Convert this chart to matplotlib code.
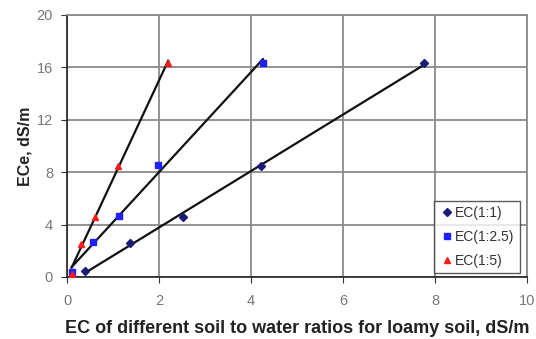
import numpy as np
import matplotlib
matplotlib.use('Agg')
import matplotlib.pyplot as plt

plt.rcParams['font.family'] = ['Liberation Sans', 'DejaVu Sans']

# EC readings for each soil:water ratio (x) vs ECe (y)
ec_11_x = [0.40, 1.37, 2.52, 4.22, 7.76]
ec_11_y = [0.45, 2.60, 4.55, 8.50, 16.30]
ec_125_x = [0.10, 0.57, 1.13, 1.98, 4.26]
ec_125_y = [0.35, 2.65, 4.65, 8.55, 16.35]
ec_15_x = [0.10, 0.30, 0.60, 1.10, 2.20]
ec_15_y = [0.25, 2.50, 4.60, 8.45, 16.35]

labels = ['EC(1:1)', 'EC(1:2.5)', 'EC(1:5)']
x_ticks = [0, 2, 4, 6, 8, 10]
y_ticks = [0, 4, 8, 12, 16, 20]

fig = plt.figure(figsize=(5.36, 3.39), dpi=100)
ax = fig.add_axes([67/536, 1 - 277/339, 460/536, 262/339])

series = [
    (ec_11_x, ec_11_y, 'D', '#1a1a7a', 4),
    (ec_125_x, ec_125_y, 's', '#1f1fff', 4.5),
    (ec_15_x, ec_15_y, '^', '#ff1a1a', 5),
]

# trend lines first (black)
for xs, ys, m, c, ms in series:
    k, b = np.polyfit(xs, ys, 1)
    xx = np.array([min(xs), max(xs)])
    ax.plot(xx, k * xx + b, color='#111111', lw=1.6, zorder=2)

for (xs, ys, m, c, ms), lab in zip(series, labels):
    ax.plot(xs, ys, linestyle='none', marker=m, color=c, markersize=ms,
            label=lab, zorder=3)

ax.set_xlim(0, 10)
ax.set_ylim(0, 20)
ax.set_xticks(x_ticks)
ax.set_yticks(y_ticks)
ax.grid(True, color='#8a8a8a', lw=1.3)
ax.set_axisbelow(True)

for s in ['top', 'right']:
    ax.spines[s].set_color('#8a8a8a')
    ax.spines[s].set_linewidth(1.3)
for s in ['left', 'bottom']:
    ax.spines[s].set_color('#222222')
    ax.spines[s].set_linewidth(1.2)

ax.tick_params(direction='out', length=4, color='#333333',
               labelcolor='#777777', labelsize=10.5, pad=6)
ax.tick_params(axis='x', pad=8)

ax.set_xlabel('EC of different soil to water ratios for loamy soil, dS/m',
              fontsize=13, fontweight='bold', color='#222222', labelpad=9)
ax.set_ylabel('ECe, dS/m', fontsize=11.5, fontweight='bold',
              color='#222222', labelpad=3)

leg = ax.legend(loc='lower right', fontsize=10, frameon=True,
                fancybox=False, edgecolor='#333333', handletextpad=0.1,
                handlelength=1.0, borderpad=0.4, labelspacing=0.7,
                borderaxespad=0, bbox_to_anchor=(0.985, 0.015))
leg.get_frame().set_linewidth(1.0)
for t in leg.get_texts():
    t.set_color('#333333')

fig.savefig('out.png', dpi=100)
